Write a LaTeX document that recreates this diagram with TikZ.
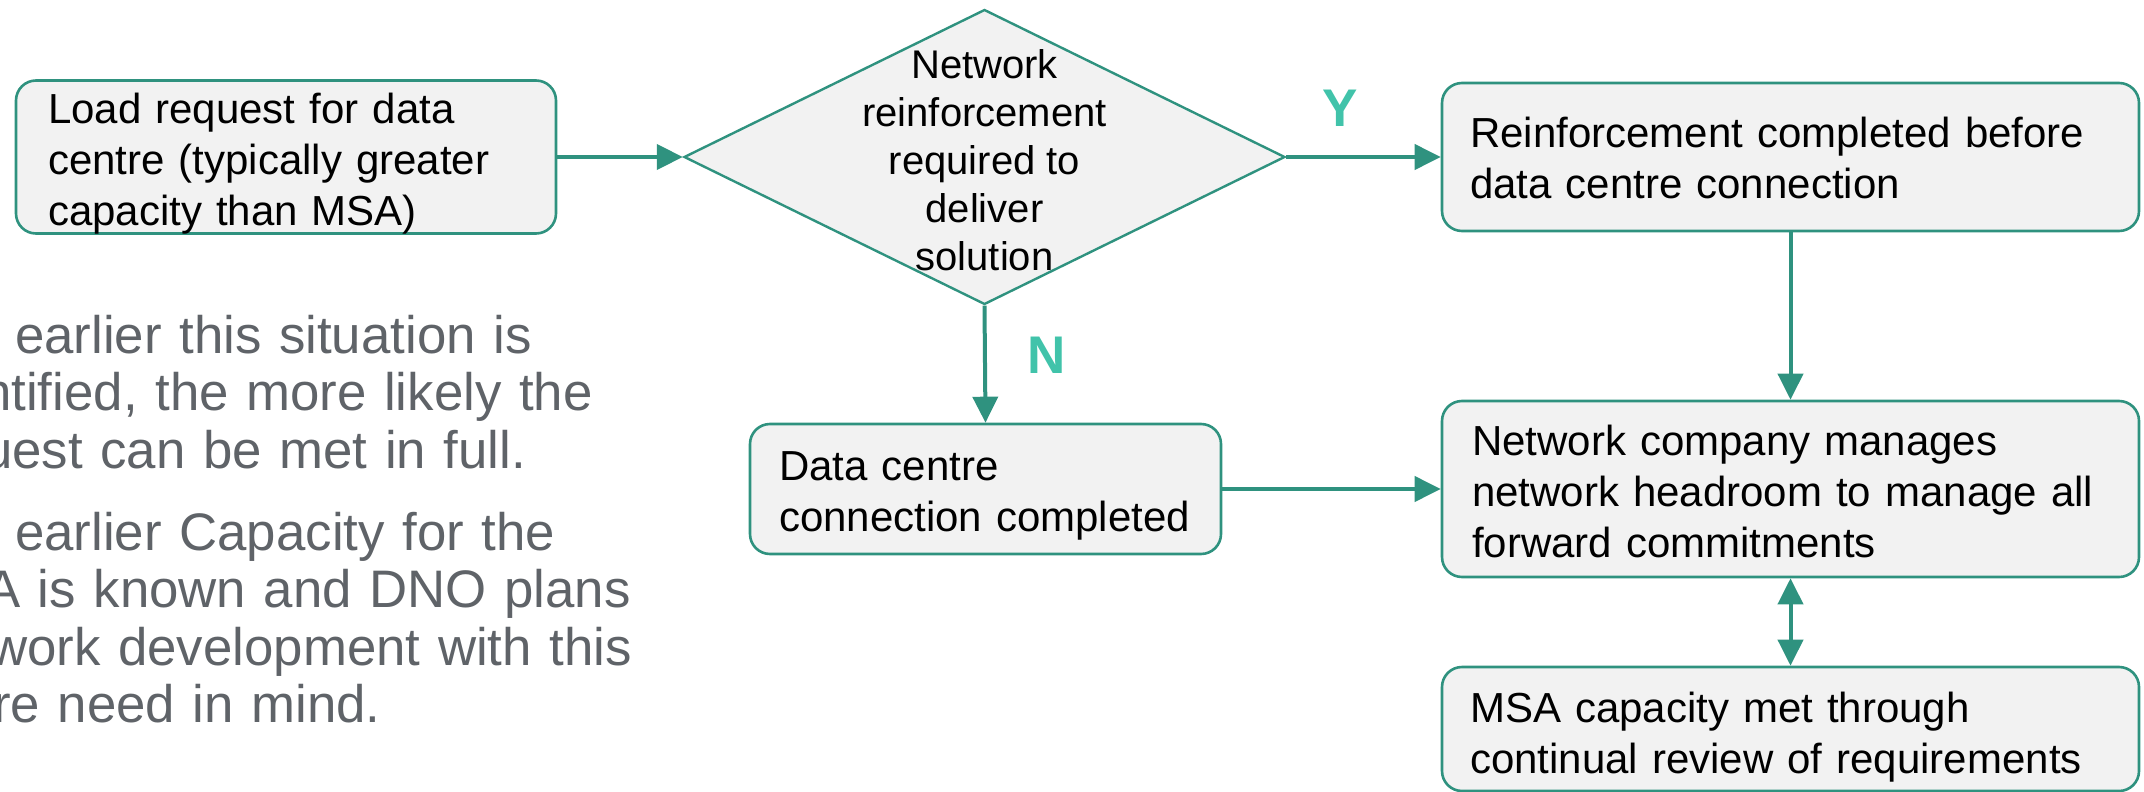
\documentclass[tikz,border=0pt]{standalone}
\usepackage{fontspec}
\setmainfont{Liberation Sans}
\usetikzlibrary{shapes.geometric,arrows.meta}

\definecolor{flowteal}{HTML}{2F927F}
\definecolor{boxfill}{HTML}{F2F2F2}
\definecolor{answer}{HTML}{41C3AA}
\definecolor{notegray}{HTML}{5F6368}

\begin{document}
\begin{tikzpicture}[x=1pt,y=-1pt,
  stepbox/.style={draw=flowteal, fill=boxfill, line width=2.6pt,
    rounded corners=20pt, inner sep=0pt},
  steptext/.style={anchor=base west, inner sep=0pt, align=left,
    text width=680pt, font=\fontsize{42pt}{51pt}\selectfont},
  decision/.style={diamond, draw=flowteal, fill=boxfill, line width=2.4pt,
    inner sep=0pt},
  flow/.style={draw=flowteal, line width=4pt,
    -{Triangle[length=26pt,width=25pt]}},
  both/.style={draw=flowteal, line width=4pt,
    {Triangle[length=26pt,width=25pt]}-{Triangle[length=26pt,width=25pt]}},
  answerlabel/.style={text=answer, font=\fontsize{53pt}{60pt}\selectfont\bfseries},
  note/.style={text=notegray, anchor=base west, inner sep=0pt, align=left,
    text width=760pt, font=\fontsize{52.8pt}{57.5pt}\selectfont}
]
\useasboundingbox (0,0) rectangle (2144,792);
\clip (0,0) rectangle (2144,792);

% side notes, running off the left edge
\node[note] (note1) at (0,353)
  {\hspace*{15pt}earlier this situation is\\
   \hspace*{-18pt}ntified, the more likely the\\
   \hspace*{-17pt}uest can be met in full.};
\node[note] (note2) at (0,550)
  {\hspace*{15pt}earlier Capacity for the\\
   \hspace*{-15pt}A is known and DNO plans\\
   \hspace*{-11pt}work development with this\\
   \hspace*{-7pt}re need in mind.};

% process steps
\node[stepbox, minimum width=540pt, minimum height=153pt] (request) at (286,157) {};
\node[steptext] (requesttext) at (48,123)
  {Load request for data\\centre (typically greater\\capacity than MSA)};

\node[decision, minimum width=601pt, minimum height=295pt] (decide) at (984.5,157) {};
\node[align=center, inner sep=0pt, font=\fontsize{40pt}{48pt}\selectfont]
  (decidetext) at (984.5,160)
  {Network\\reinforcement\\required to\\deliver\\solution};

\node[stepbox, minimum width=697pt, minimum height=148pt] (reinforce) at (1790.5,157) {};
\node[steptext] (reinforcetext) at (1470,147)
  {Reinforcement completed before\\data centre connection};

\node[stepbox, minimum width=471pt, minimum height=130pt] (connect) at (985.5,489) {};
\node[steptext] (connecttext) at (779,480)
  {Data centre\\connection completed};

\node[stepbox, minimum width=697pt, minimum height=176pt] (headroom) at (1790.5,489) {};
\node[steptext] (headroomtext) at (1472,455)
  {Network company manages\\network headroom to manage all\\forward commitments};

\node[stepbox, minimum width=697pt, minimum height=124pt] (review) at (1790.5,729) {};
\node[steptext] (reviewtext) at (1470,722)
  {MSA capacity met through\\continual review of requirements};

% connectors
\draw[flow] (request.east) -- (decide.west);
\draw[flow] (decide.east) -- (reinforce.west);
\draw[flow] (decide.south) -- (connect.north);
\draw[flow] (reinforce.south) -- (headroom.north);
\draw[flow] (connect.east) -- (headroom.west);
\draw[both] (headroom.south) -- (review.north);

% branch labels
\node[answerlabel] (yes) at (1340,108) {Y};
\node[answerlabel] (no) at (1047,355) {N};
\end{tikzpicture}
\end{document}
